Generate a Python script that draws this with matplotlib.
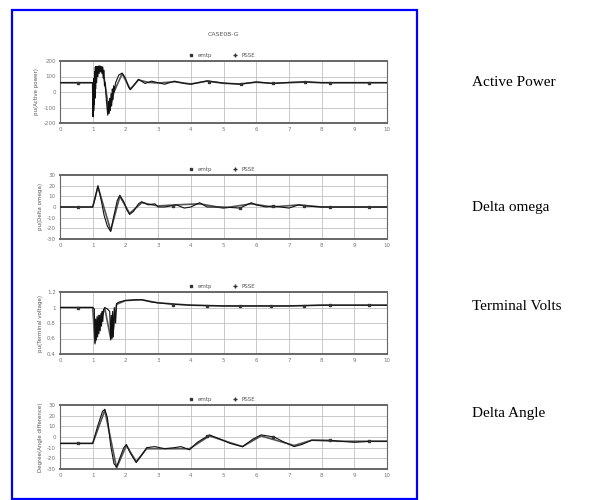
import matplotlib
matplotlib.use("Agg")
import matplotlib.pyplot as plt
from matplotlib.patches import Rectangle

# ---------------- data ----------------
title = "CASE08-G"
series_names = ["emtp", "PSSE"]
x_ticks = [0, 1, 2, 3, 4, 5, 6, 7, 8, 9, 10]
side_labels = ["Active Power", "Delta omega", "Terminal Volts", "Delta Angle"]
y_labels = ["pu(Active power)", "pu(Delta omega)", "pu(Terminal voltage)", "Degree(Angle difference)"]

# Active power
p_t = [0, 0.55, 1.0, 1.01, 1.02, 1.03, 1.04, 1.05, 1.06, 1.07, 1.08, 1.09, 1.10, 1.12, 1.14, 1.16,
       1.18, 1.20, 1.22, 1.24, 1.26, 1.28, 1.30, 1.32, 1.34, 1.36, 1.38, 1.42, 1.46, 1.48, 1.50,
       1.52, 1.54, 1.56, 1.58, 1.60, 1.62, 1.64, 1.66, 1.70, 1.80, 1.90, 2.0, 2.1, 2.15, 2.25,
       2.4, 2.6, 2.8, 3.0, 3.2, 3.5, 3.8, 4.0, 4.5, 5.0, 5.5, 6.0, 6.5, 7.0, 7.5, 8.0, 8.5, 9.0, 9.5, 10]
p_emtp = [60, 60, 60, -160, 40, -120, 90, -80, 130, -40, 160, 20, 165, 60, 165, 100,
          168, 120, 168, 130, 165, 120, 160, 90, 140, 40, 60, -60, -150, -60, -140,
          -40, -120, -10, -90, 20, -50, 40, 0, 60, 110, 122, 90, 30, 15, 40,
          82, 55, 70, 60, 50, 70, 55, 50, 72, 58, 50, 65, 55, 62, 66, 60, 60, 60, 60, 60]
p_t2 = [0, 1.0, 1.01, 1.1, 1.2, 1.3, 1.4, 1.5, 1.65, 1.9, 2.15, 2.4, 2.7, 3.0, 3.5, 4.0, 4.5, 5.0,
        5.5, 6.0, 6.5, 7.0, 7.5, 8.0, 8.5, 9.0, 9.5, 10]
p_psse = [60, 60, -150, 140, 165, 160, 20, -130, 0, 118, 18, 78, 62, 58, 66, 52, 70, 56,
          52, 63, 56, 60, 64, 60, 60, 60, 60, 60]
p_mk_t = [0.55, 4.55, 5.55, 6.5, 7.5, 8.25, 9.45]
p_mk_v = [60, 66, 52, 55, 64, 60, 60]

# Delta omega
w_t = [0, 1.0, 1.07, 1.16, 1.25, 1.35, 1.45, 1.55, 1.65, 1.75, 1.83, 1.95, 2.05, 2.13, 2.25,
       2.4, 2.5, 2.7, 2.9, 3.0, 3.2, 3.56, 3.8, 4.0, 4.27, 4.5, 5.0, 5.5, 5.85, 6.0, 6.3,
       6.5, 7.0, 7.3, 7.5, 8.0, 8.5, 9.0, 10]
w_emtp = [0, 0, 8, 20, 8, -8, -18, -23, -8, 6, 11, 5, -3, -7, -4,
          3, 5, 2, 3, 0, 0, 2, -1, 0, 4, 0, 0, -1, 4, 2, 0,
          1, -1, 2, 1, 0, 0, 0, 0]
w_t2 = [0, 1.0, 1.16, 1.55, 1.83, 2.13, 2.5, 3.0, 3.56, 4.27, 5.0, 5.85, 6.5, 7.3, 8.0, 9.0, 10]
w_psse = [0, 0, 19, -22, 10, -6, 4, 1, 2, 3, -1, 3, 0, 2, 0, 0, 0]
w_mk_t = [0.55, 3.45, 5.5, 6.5, 7.45, 8.25, 9.45]
w_mk_v = [0, 1, -1, 1, 1, 0, 0]

# Terminal volts
v_t = [0, 0.55, 1.0, 1.05, 1.07, 1.09, 1.11, 1.13, 1.15, 1.17, 1.19, 1.21, 1.23, 1.25, 1.27,
       1.29, 1.31, 1.33, 1.37, 1.45, 1.52, 1.55, 1.57, 1.59, 1.61, 1.63, 1.66, 1.70, 1.73,
       1.8, 2.0, 2.3, 2.5, 2.8, 3.0, 3.5, 4.0, 5.0, 6.0, 7.0, 8.0, 9.0, 10]
v_emtp = [1.0, 1.0, 1.0, 0.98, 0.53, 0.85, 0.58, 0.88, 0.62, 0.90, 0.66, 0.90, 0.70, 0.92, 0.76,
          0.95, 0.82, 0.97, 1.0, 0.98, 0.95, 0.58, 0.9, 0.6, 0.95, 0.62, 1.0, 0.8, 1.05,
          1.07, 1.09, 1.1, 1.1, 1.07, 1.06, 1.04, 1.03, 1.02, 1.02, 1.02, 1.03, 1.03, 1.03]
v_t2 = [0, 1.0, 1.07, 1.2, 1.37, 1.55, 1.6, 1.73, 2.0, 2.5, 3.0, 4.0, 5.0, 6.0, 7.0, 8.0, 9.0, 10]
v_psse = [1.0, 1.0, 0.55, 0.78, 0.99, 0.6, 0.62, 1.04, 1.09, 1.1, 1.06, 1.03, 1.02, 1.02, 1.02, 1.03, 1.03, 1.03]
v_mk_t = [0.55, 3.45, 4.5, 5.5, 6.45, 7.45, 8.25, 9.45]
v_mk_v = [1.0, 1.03, 1.02, 1.02, 1.02, 1.02, 1.03, 1.03]

# Delta angle
a_t = [0, 0.55, 1.0, 1.15, 1.3, 1.37, 1.45, 1.55, 1.65, 1.73, 1.85, 1.95, 2.03, 2.15, 2.33, 2.5,
       2.65, 2.9, 3.2, 3.5, 3.7, 3.96, 4.2, 4.57, 4.9, 5.2, 5.58, 5.9, 6.15, 6.55, 6.8,
       7.16, 7.4, 7.7, 8.0, 8.23, 8.6, 9.0, 9.5, 10]
a_emtp = [-6, -6, -6, 10, 24, 26, 18, -8, -25, -28, -18, -10, -7, -15, -24, -17,
          -10, -9, -11, -10, -9, -12, -5, 2, -2, -6, -9, -2, 2, 0, -4,
          -9, -7, -3, -3, -3, -4, -5, -4, -4]
a_t2 = [0, 1.0, 1.37, 1.73, 2.03, 2.33, 2.65, 3.2, 3.96, 4.57, 5.58, 6.15, 7.16, 7.7, 8.5, 9.5, 10]
a_psse = [-6, -6, 25, -29, -8, -23, -11, -11, -11, 1, -9, 1, -8, -3, -4, -4, -4]
a_mk_t = [0.55, 4.5, 6.5, 8.25, 9.45]
a_mk_v = [-6, 1, 0, -3, -4]

y_ticks = [
    [-200, -100, 0, 100, 200],
    [-30, -20, -10, 0, 10, 20, 30],
    [0.4, 0.6, 0.8, 1.0, 1.2],
    [-30, -20, -10, 0, 10, 20, 30],
]
y_ticklabels = [
    ["-200", "-100", "0", "100", "200"],
    ["-30", "-20", "-10", "0", "10", "20", "30"],
    ["0.4", "0.6", "0.8", "1", "1.2"],
    ["-30", "-20", "-10", "0", "10", "20", "30"],
]

panels = [
    (p_t, p_emtp, p_t2, p_psse, p_mk_t, p_mk_v),
    (w_t, w_emtp, w_t2, w_psse, w_mk_t, w_mk_v),
    (v_t, v_emtp, v_t2, v_psse, v_mk_t, v_mk_v),
    (a_t, a_emtp, a_t2, a_psse, a_mk_t, a_mk_v),
]

# ---------------- layout ----------------
W, H = 593, 500
fig = plt.figure(figsize=(W / 100, H / 100), dpi=100)

# axes pixel boxes: (left, top, right, bottom)
boxes = [(60, 61, 387, 123), (60, 175, 387, 239), (60, 292, 387, 354), (60, 405, 387, 469)]
side_y = [83, 208, 307, 413]

grey_txt = "#777777"
for i, (box, data) in enumerate(zip(boxes, panels)):
    l, t, r, b = box
    ax = fig.add_axes([l / W, 1 - b / H, (r - l) / W, (b - t) / H])
    tt, ye, tt2, yp, mt, mv = data
    ax.plot(tt2, yp, color="#555555", lw=1.2, zorder=3)
    ax.plot(tt, ye, color="#111111", lw=0.8, zorder=4)
    ax.plot(mt, mv, ls="none", marker="s", ms=2, color="#333333", zorder=5)
    lo, hi = y_ticks[i][0], y_ticks[i][-1]
    ax.set_xlim(0, 10)
    ax.set_ylim(lo, hi)
    ax.set_xticks(x_ticks)
    ax.set_yticks(y_ticks[i])
    ax.set_xticklabels([str(v) for v in x_ticks])
    ax.set_yticklabels(y_ticklabels[i])
    ax.grid(True, color="#c0c0c0", lw=0.6)
    ax.tick_params(labelsize=4, colors=grey_txt, length=0, pad=3)
    for s in ax.spines.values():
        s.set_color("#666666")
        s.set_linewidth(0.8)
    ax.spines["top"].set_linewidth(1.4)
    ax.spines["bottom"].set_linewidth(1.4)
    ax.set_ylabel(y_labels[i], fontsize=4, color="#555555", labelpad=3)
    # legend
    h1, = ax.plot([], [], ls="none", marker="s", ms=2, color="#333333", label=series_names[0])
    h2, = ax.plot([], [], ls="none", marker="+", ms=3, color="#333333", label=series_names[1])
    ax.legend(handles=[h1, h2], ncol=2, loc="lower center", bbox_to_anchor=(0.49, 1.0),
              frameon=False, fontsize=4, labelcolor="#555555", handletextpad=0.3,
              columnspacing=3, borderaxespad=0.2)
    if i == 0:
        ax.text(0.5, 1.42, title, transform=ax.transAxes, ha="center", va="center",
                fontsize=4.5, color="#555555")
    fig.text(472 / W, 1 - side_y[i] / H, side_labels[i], fontsize=11,
             family="Liberation Serif", va="center", ha="left")

# blue frame
fig.patches.append(Rectangle((12 / W, 1 - 499 / H), (417 - 12) / W, (499 - 10) / H,
                             transform=fig.transFigure, fill=False, edgecolor="#0000ff", lw=1.6))

fig.savefig("out.png", dpi=100, facecolor="white")
